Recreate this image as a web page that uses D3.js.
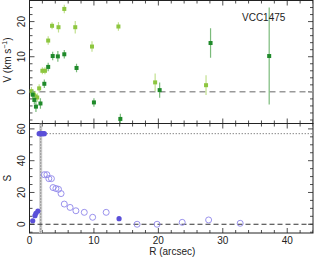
<!DOCTYPE html>
<html>
<head>
<meta charset="utf-8">
<script src="https://cdn.jsdelivr.net/npm/d3@7"></script>
<style>
  body { margin: 0; background: #fff; }
  svg text { font-family: "Liberation Sans", Arial, sans-serif; fill: #222; }
</style>
</head>
<body>
<div id="chart"></div>
<script>
// velocity panel: light green series [R, V, err]
const lightR   = [0.3, 0.5, 0.7, 0.9, 1.2, 1.5, 2.0, 2.4, 2.9, 3.5, 4.5, 5.4, 7.1, 9.7, 13.8, 19.5, 27.4];
const lightV   = [0.2, -0.5, -1.0, -1.3, -1.6, 1.0, 6.0, 6.0, 14.6, 18.8, 18.4, 23.6, 18.4, 12.9, 18.6, 2.7, 1.9];
const lightErr = [1.2, 1.0, 1.0, 1.2, 1.2, 1.2, 1.0, 1.0, 1.2, 1.0, 1.5, 1.2, 1.8, 1.5, 1.2, 2.5, 2.8];
// dark green series
const darkR   = [0.5, 0.75, 1.0, 1.7, 2.3, 2.9, 3.6, 4.4, 5.4, 7.3, 10.0, 14.1, 20.2, 28.1, 37.2];
const darkV   = [-0.8, -2.3, -4.2, -3.3, 2.3, 7.1, 10.2, 10.1, 10.7, 6.8, -3.0, -7.7, 0.5, 13.9, 10.2];
const darkErr = [1.2, 1.2, 1.5, 1.5, 1.2, 1.2, 1.2, 1.5, 1.2, 1.2, 1.2, 1.5, 2.2, 4.2, 13.8];
// S panel
const filledR = [0.5, 0.85, 1.0, 1.3, 1.5, 1.7, 1.9, 2.1, 2.3, 13.9];
const filledS = [2.2, 5.4, 6.9, 8.3, 57, 57, 57, 57, 57, 3.5];
const openR = [2.3, 2.7, 3.0, 3.4, 3.65, 4.1, 4.5, 4.9, 5.4, 6.3, 7.2, 8.5, 9.8, 11.9, 16.7, 19.8, 23.7, 27.8, 32.7];
const openS = [31.2, 31.2, 28.7, 28.7, 23.1, 22.5, 22.0, 19.3, 12.7, 10.6, 8.5, 7.5, 4.4, 7.5, 0, 0, 1.2, 2.7, 0.6];
const xTicks = [0, 10, 20, 30, 40];
const vTicks = [-10, 0, 10, 20];
const sTicks = [0, 20, 40, 60];
const sLevel = 57;
const rLevel = 1.74;

const W = 314, H = 257;
const left = 29.5, right = 313;
const p1 = { top: 0.5, bottom: 123.5 };
const p2 = { top: 123.5, bottom: 233 };

const svg = d3.select("#chart").append("svg")
  .attr("width", W).attr("height", H);

const x = d3.scaleLinear().domain([0, 44]).range([left, right]);
const yV = d3.scaleLinear().domain([-9, 26]).range([p1.bottom, p1.top]);
const yS = d3.scaleLinear().domain([-5.5, 63.4]).range([p2.bottom, p2.top]);

function frame(y, p, majors, minorStep, showX) {
  const g = svg.append("g");
  const clipId = "c" + Math.round(p.top);
  svg.append("clipPath").attr("id", clipId)
    .append("rect").attr("x", left).attr("y", p.top).attr("width", right - left).attr("height", p.bottom - p.top);
  const xMin = d3.range(0, 45, 2);
  const [y0, y1] = y.domain();
  const yMin = d3.range(Math.ceil(y0 / minorStep) * minorStep, y1, minorStep);
  const tk = g.append("g").attr("stroke", "#222").attr("stroke-width", 0.8).attr("clip-path", `url(#${clipId})`);
  xMin.forEach(v => {
    const len = v % 10 === 0 ? 5 : 3;
    tk.append("line").attr("x1", x(v)).attr("x2", x(v)).attr("y1", p.bottom).attr("y2", p.bottom - len);
    tk.append("line").attr("x1", x(v)).attr("x2", x(v)).attr("y1", p.top).attr("y2", p.top + len);
  });
  yMin.forEach(v => {
    const len = majors.includes(v) ? 5 : 3;
    tk.append("line").attr("x1", left).attr("x2", left + len).attr("y1", y(v)).attr("y2", y(v));
    tk.append("line").attr("x1", right).attr("x2", right - len).attr("y1", y(v)).attr("y2", y(v));
  });
  g.append("rect").attr("x", left).attr("y", p.top).attr("width", right - left).attr("height", p.bottom - p.top)
    .attr("fill", "none").attr("stroke", "#222").attr("stroke-width", 1);
  majors.forEach(v => {
    const py = y(v);
    if (py < p.top - 2 || py > p.bottom + 2) return;
    g.append("text").attr("transform", `translate(25,${py}) rotate(-90)`)
      .attr("text-anchor", "middle").attr("font-size", 10).text(v);
  });
  if (showX) {
    xTicks.forEach(v => {
      g.append("text").attr("x", x(v)).attr("y", p.bottom + 11)
        .attr("text-anchor", "middle").attr("font-size", 10).text(v);
    });
  }
  return clipId;
}

// top panel
const c1 = frame(yV, p1, vTicks, 2, false);
const g1 = svg.append("g").attr("clip-path", `url(#${c1})`);
g1.append("line").attr("x1", left).attr("x2", right).attr("y1", yV(0)).attr("y2", yV(0))
  .attr("stroke", "#999").attr("stroke-width", 1.5).attr("stroke-dasharray", "6,4");

function series(R, V, E, col, errCol) {
  R.forEach((r, i) => {
    g1.append("line").attr("x1", x(r)).attr("x2", x(r))
      .attr("y1", yV(V[i] - E[i])).attr("y2", yV(V[i] + E[i]))
      .attr("stroke", errCol).attr("stroke-width", 1.2);
  });
  R.forEach((r, i) => {
    g1.append("rect").attr("x", x(r) - 2).attr("y", yV(V[i]) - 2)
      .attr("width", 4).attr("height", 4).attr("fill", col);
  });
}
series(lightR, lightV, lightErr, "#8dc63f", "#c2e08f");
series(darkR, darkV, darkErr, "#1f8a2a", "#7bbb7b");

svg.append("text").attr("x", 242).attr("y", 21).attr("font-size", 10).text("VCC1475");

svg.append("text").attr("transform", `translate(11,${(p1.top + p1.bottom) / 2 - 2}) rotate(-90)`)
  .attr("text-anchor", "middle").attr("font-size", 10)
  .html('V (km s<tspan dy="-4" font-size="7">−1</tspan><tspan dy="4">)</tspan>');

// bottom panel
const c2 = frame(yS, p2, sTicks, 5, true);
const g2 = svg.append("g").attr("clip-path", `url(#${c2})`);
g2.append("line").attr("x1", x(rLevel)).attr("x2", x(rLevel)).attr("y1", p2.top).attr("y2", p2.bottom)
  .attr("stroke", "#ccc").attr("stroke-width", 3);
g2.append("line").attr("x1", x(rLevel)).attr("x2", x(rLevel)).attr("y1", p2.top).attr("y2", p2.bottom)
  .attr("stroke", "#666").attr("stroke-width", 1).attr("stroke-dasharray", "1,2");
g2.append("line").attr("x1", x(rLevel)).attr("x2", right).attr("y1", yS(sLevel)).attr("y2", yS(sLevel))
  .attr("stroke", "#555").attr("stroke-width", 1).attr("stroke-dasharray", "1,2");
g2.append("line").attr("x1", left).attr("x2", right).attr("y1", yS(0)).attr("y2", yS(0))
  .attr("stroke", "#333").attr("stroke-width", 1).attr("stroke-dasharray", "5,3");

g2.selectAll(".open").data(openR).enter().append("circle")
  .attr("cx", d => x(d)).attr("cy", (d, i) => yS(openS[i])).attr("r", 3)
  .attr("fill", "none").attr("stroke", "#8f86ea").attr("stroke-width", 0.9);
g2.selectAll(".filled").data(filledR).enter().append("circle")
  .attr("cx", d => x(d)).attr("cy", (d, i) => yS(filledS[i])).attr("r", 2.6)
  .attr("fill", "#5a4fd8");

svg.append("text").attr("transform", `translate(11,${(p2.top + p2.bottom) / 2}) rotate(-90)`)
  .attr("text-anchor", "middle").attr("font-size", 10).text("S");
svg.append("text").attr("x", (left + right) / 2 + 1).attr("y", 255)
  .attr("text-anchor", "middle").attr("font-size", 10).text("R (arcsec)");
</script>
</body>
</html>
